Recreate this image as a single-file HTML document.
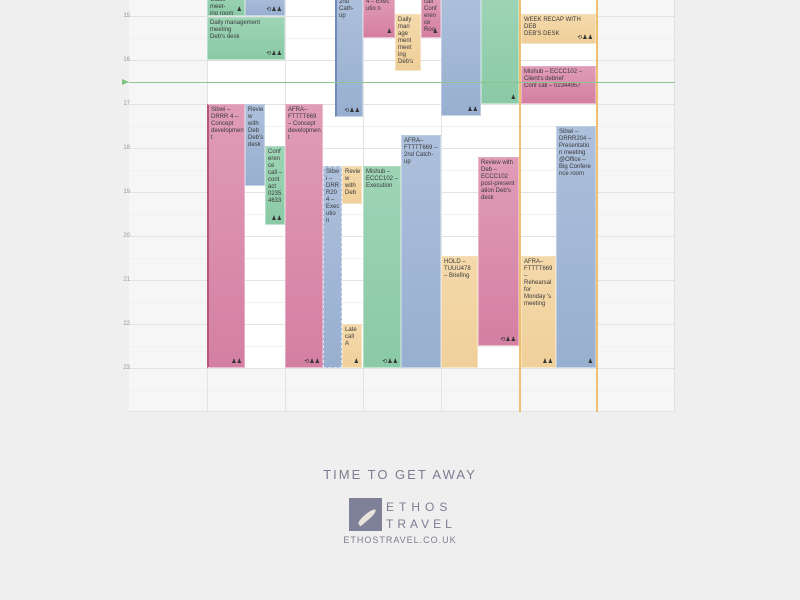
<!DOCTYPE html>
<html><head><meta charset="utf-8"><style>
*{margin:0;padding:0;box-sizing:border-box}
body{width:800px;height:600px;background:#efefef;position:relative;overflow:hidden;font-family:"Liberation Sans",sans-serif}
.cal{position:absolute;left:129px;top:0;width:546px;height:412px;background:#f6f6f6;border-right:1px solid #e2e2e2;border-bottom:1px solid #e2e2e2}
.day{position:absolute;top:0;height:368px;background:#fff}
.vl{position:absolute;top:0;width:1px;height:412px;background:#e3e3e3}
.hl{position:absolute;left:129px;width:546px;height:1px;background:#e2e2e2}
.hh{position:absolute;left:129px;width:546px;height:1px;background:#f0f0f0}
.lab{position:absolute;left:120px;width:10px;font-size:6px;color:#999;text-align:right}
.e{position:absolute;font-size:6px;line-height:7px;color:#3a3a3a;padding:2px 2px;overflow:hidden;border:1px solid rgba(255,255,255,.35)}
.p{background:linear-gradient(#e09cb7,#d47fa1)}
.b{background:linear-gradient(#adc0dc,#98afd0)}
.g{background:linear-gradient(#9dd4b5,#8bcaa6)}
.o{background:linear-gradient(#f4d9ab,#f0d09a)}
.ic{position:absolute;right:2px;bottom:1px;font-size:6px;color:#333}
</style></head><body>
<div class="cal"></div>
<div class="day" style="left:207px;width:390px"></div>
<div class="hh" style="top:38px"></div><div class="hh" style="top:126px"></div><div class="hh" style="top:170px"></div><div class="hh" style="top:214px"></div><div class="hh" style="top:258px"></div><div class="hh" style="top:302px"></div><div class="hh" style="top:346px"></div><div class="hh" style="top:390px"></div>
<div class="hl" style="top:16px"></div><div class="hl" style="top:60px"></div><div class="hl" style="top:104px"></div><div class="hl" style="top:148px"></div><div class="hl" style="top:192px"></div><div class="hl" style="top:236px"></div><div class="hl" style="top:280px"></div><div class="hl" style="top:324px"></div><div class="hl" style="top:368px"></div>
<div class="vl" style="left:207px"></div><div class="vl" style="left:285px"></div><div class="vl" style="left:363px"></div><div class="vl" style="left:441px"></div><div class="vl" style="left:519px;background:#f0c070;width:2px"></div><div class="vl" style="left:596px;background:#f0c070;width:2px"></div>
<div class="lab" style="top:13px">15</div><div class="lab" style="top:57px">16</div><div class="lab" style="top:101px">17</div><div class="lab" style="top:145px">18</div><div class="lab" style="top:189px">19</div><div class="lab" style="top:233px">20</div><div class="lab" style="top:277px">21</div><div class="lab" style="top:321px">22</div><div class="lab" style="top:365px">23</div>

<div class="e g" style="left:207px;top:-6px;width:38px;height:22px">Glass meet-<br>ing room<span class="ic">♟</span></div>
<div class="e b" style="left:245px;top:-6px;width:40px;height:22px"><span class="ic">⟲♟♟</span></div>
<div class="e g" style="left:207px;top:17px;width:78px;height:43px">Daily management meeting<br>Deb's desk<span class="ic">⟲♟♟</span></div>
<div class="e p" style="left:207px;top:104px;width:38px;height:264px;border-left:2px solid #b9557d">Sibwi – DRRR 4 – Concept developmen t<span class="ic">♟♟</span></div>
<div class="e b" style="left:245px;top:104px;width:20px;height:82px">Revie w with Deb Deb's desk</div>
<div class="e g" style="left:265px;top:146px;width:20px;height:79px">Conf eren ce call – cont act 0235 4633<span class="ic">♟♟</span></div>

<div class="e p" style="left:285px;top:104px;width:38px;height:264px">AFRA– FTTTT669 – Concept developmen t<span class="ic">⟲♟♟</span></div>
<div class="e b" style="left:335px;top:-4px;width:28px;height:121px;border-left:2px solid #6f8cb8">2nd Cath- up<span class="ic">⟲♟♟</span></div>
<div class="e b" style="left:323px;top:166px;width:19px;height:202px;border:1px dashed #dde4f0">Sibw i – DRR R20 4 – Exec utio n</div>
<div class="e o" style="left:342px;top:166px;width:20px;height:38px">Revie w with Deb</div>
<div class="e o" style="left:342px;top:324px;width:20px;height:44px">Late call A<span class="ic">♟</span></div>

<div class="e p" style="left:363px;top:-4px;width:32px;height:42px">4 – Exec utio n<span class="ic">♟</span></div>
<div class="e o" style="left:395px;top:14px;width:26px;height:57px">Daily man age ment meet ing Deb's</div>
<div class="e p" style="left:421px;top:-4px;width:20px;height:42px">call Conf eren ce Roo<span class="ic">♟</span></div>
<div class="e g" style="left:363px;top:166px;width:38px;height:202px">Mishub – ECCC102 – Execution<span class="ic">⟲♟♟</span></div>
<div class="e b" style="left:401px;top:135px;width:40px;height:233px">AFRA– FTTTT669 – 2nd Catch-up</div>

<div class="e b" style="left:441px;top:-4px;width:40px;height:120px"><span class="ic">♟♟</span></div>
<div class="e g" style="left:481px;top:-4px;width:38px;height:108px"><span class="ic">♟</span></div>
<div class="e o" style="left:441px;top:256px;width:37px;height:112px">HOLD – TUUU478 – Briefing</div>
<div class="e p" style="left:478px;top:157px;width:41px;height:189px">Review with Deb – ECCC102 post-present ation Deb's desk<span class="ic">⟲♟♟</span></div>

<div class="e o" style="left:521px;top:14px;width:75px;height:30px">WEEK RECAP WITH DEB<br>DEB'S DESK<span class="ic">⟲♟♟</span></div>
<div class="e p" style="left:521px;top:66px;width:75px;height:38px">Mishub – ECCC102 –<br>Client's debrief<br>Conf call – 02344957</div>
<div class="e o" style="left:521px;top:256px;width:35px;height:112px">AFRA– FTTTT669 – Rehearsal for Monday 's meeting<span class="ic">♟♟</span></div>
<div class="e b" style="left:556px;top:126px;width:40px;height:242px">Sibwi – DRRR204 – Presentatio n meeting @Office – Big Confere nce room<span class="ic">♟</span></div>

<div style="position:absolute;left:129px;top:82px;width:546px;height:1px;background:#8fc48f"></div>
<div style="position:absolute;left:122px;top:79px;width:0;height:0;border-top:3px solid transparent;border-bottom:3px solid transparent;border-left:7px solid #7fbf7f"></div>

<div style="position:absolute;left:0;top:467px;width:800px;text-align:center;font-size:13px;letter-spacing:2px;color:#7c7d92">TIME TO GET AWAY</div>
<div style="position:absolute;left:349px;top:498px;width:33px;height:33px;background:#7e8198"></div>
<div style="position:absolute;left:356px;top:514px;width:22px;height:6px;background:#e8e4dc;border-radius:50% 50% 50% 0;transform:rotate(-40deg)"></div>
<div style="position:absolute;left:386px;top:500px;font-size:12px;letter-spacing:5px;color:#7c7d92">ETHOS</div>
<div style="position:absolute;left:386px;top:517px;font-size:12px;letter-spacing:4px;color:#7c7d92">TRAVEL</div>
<div style="position:absolute;left:0;top:535px;width:800px;text-align:center;font-size:9px;letter-spacing:1px;color:#7c7d92">ETHOSTRAVEL.CO.UK</div>
</body></html>
